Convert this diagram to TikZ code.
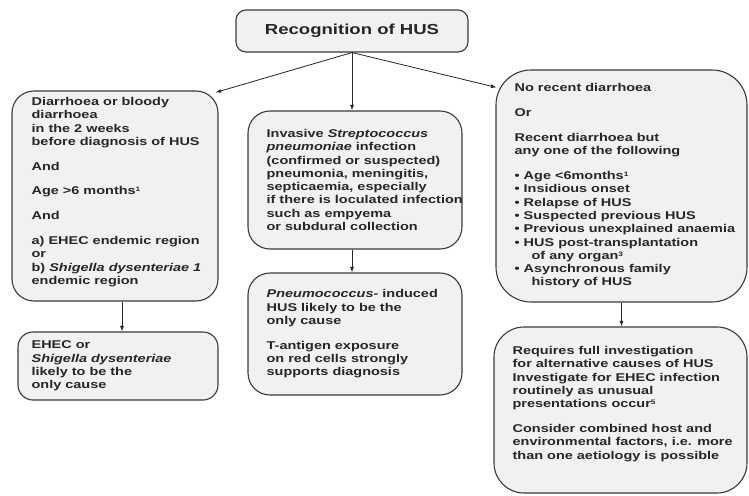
\documentclass[tikz,border=0pt]{standalone}
\usepackage{fontspec}
\setmainfont{Liberation Sans}[FakeStretch=1.28,UprightFont=* Bold,ItalicFont=* Bold Italic]
\usetikzlibrary{arrows.meta,calc}
\definecolor{boxfill}{HTML}{F1F1F1}
\definecolor{boxline}{HTML}{3A3A3A}
\definecolor{inktext}{HTML}{262626}
\tikzset{
  box/.style={draw=boxline, fill=boxfill, line width=1.1pt, rounded corners=#1, inner sep=0pt},
  txt/.style={anchor=west, align=left, inner sep=0pt, text=inktext,
    font=\fontsize{11.3}{13.3}\selectfont},
  head/.style={text=inktext, font=\fontsize{14.5}{16}\selectfont},
  arr/.style={-{Latex[length=5.5pt,width=4pt]}, line width=0.8pt, draw=black!85},
}
\newcommand{\pgap}{\\[11.5pt]}
\newcommand{\sups}[1]{\raisebox{3.2pt}{\fontsize{6.5}{7}\selectfont #1}}
\begin{document}
\begin{tikzpicture}[x=1pt,y=-1pt]
\useasboundingbox (0,0) rectangle (749,495);
% boxes
\node[box=10pt, head, minimum width=232pt, minimum height=42pt] (top) at (352,31) {Recognition of HUS};
\node[box=22pt, minimum width=206pt, minimum height=210pt] (L1) at (115,196) {};
\node[box=15pt, minimum width=200pt, minimum height=68pt] (L2) at (118,366) {};
\node[box=22pt, minimum width=214pt, minimum height=138pt] (M1) at (355,180) {};
\node[box=22pt, minimum width=214pt, minimum height=122pt] (M2) at (355,334) {};
\node[box=35pt, minimum width=251pt, minimum height=232pt] (R1) at (621.5,186) {};
\node[box=30pt, minimum width=253pt, minimum height=166pt] (R2) at (620.5,410) {};
% texts
\node[txt] (tL1) at ([xshift=20pt,yshift=4pt]L1.west) {Diarrhoea or bloody\\
diarrhoea\\
in the 2 weeks\\
before diagnosis of HUS\pgap
And\pgap
Age >6 months\sups{1}\pgap
And\pgap
a) EHEC endemic region\\
or\\
b) \textit{Shigella dysenteriae 1}\\
endemic region};
\node[txt] (tL2) at ([xshift=14pt]L2.west) {EHEC or\\
\textit{Shigella dysenteriae}\\
likely to be the\\
only cause};
\node[txt] (tM1) at ([xshift=19pt]M1.west) {Invasive \textit{Streptococcus}\\
\textit{pneumoniae} infection\\
(confirmed or suspected)\\
pneumonia, meningitis,\\
septicaemia, especially\\
if there is loculated infection\\
such as empyema\\
or subdural collection};
\node[txt] (tM2) at ([xshift=19pt]M2.west) {\textit{Pneumococcus-} induced\\
HUS likely to be the\\
only cause\pgap
T-antigen exposure\\
on red cells strongly\\
supports diagnosis};
\node[txt] (tR1) at ([xshift=19pt]R1.west) {No recent diarrhoea\pgap
Or\pgap
Recent diarrhoea but\\
any one of the following\pgap
• Age <6months\sups{1}\\
• Insidious onset\\
• Relapse of HUS\\
• Suspected previous HUS\\
• Previous unexplained anaemia\\
• HUS post-transplantation\\
\hspace*{17pt}of any organ\sups{3}\\
• Asynchronous family\\
\hspace*{17pt}history of HUS};
\node[txt] (tR2) at ([xshift=19pt,yshift=6pt]R2.west) {Requires full investigation\\
for alternative causes of HUS\\
Investigate for EHEC infection\\
routinely as unusual\\
presentations occur\sups{5}\pgap
Consider combined host and\\
environmental factors, i.e. more\\
than one aetiology is possible};
% connectors
\draw[arr] (top.south) -- ($(L1.north east)+(-3,2)$);
\draw[arr] (top.south) -- (top.south |- M1.north);
\draw[arr] (top.south) -- ($(R1.north west)+(1,18)$);
\draw[arr] ([xshift=4pt]L2.north |- L1.south) -- ([xshift=4pt]L2.north);
\draw[arr] ([xshift=-3pt]M1.south) -- ([xshift=-3pt]M2.north);
\draw[arr] (R1.south) -- (R1.south |- R2.north);
\end{tikzpicture}
\end{document}
